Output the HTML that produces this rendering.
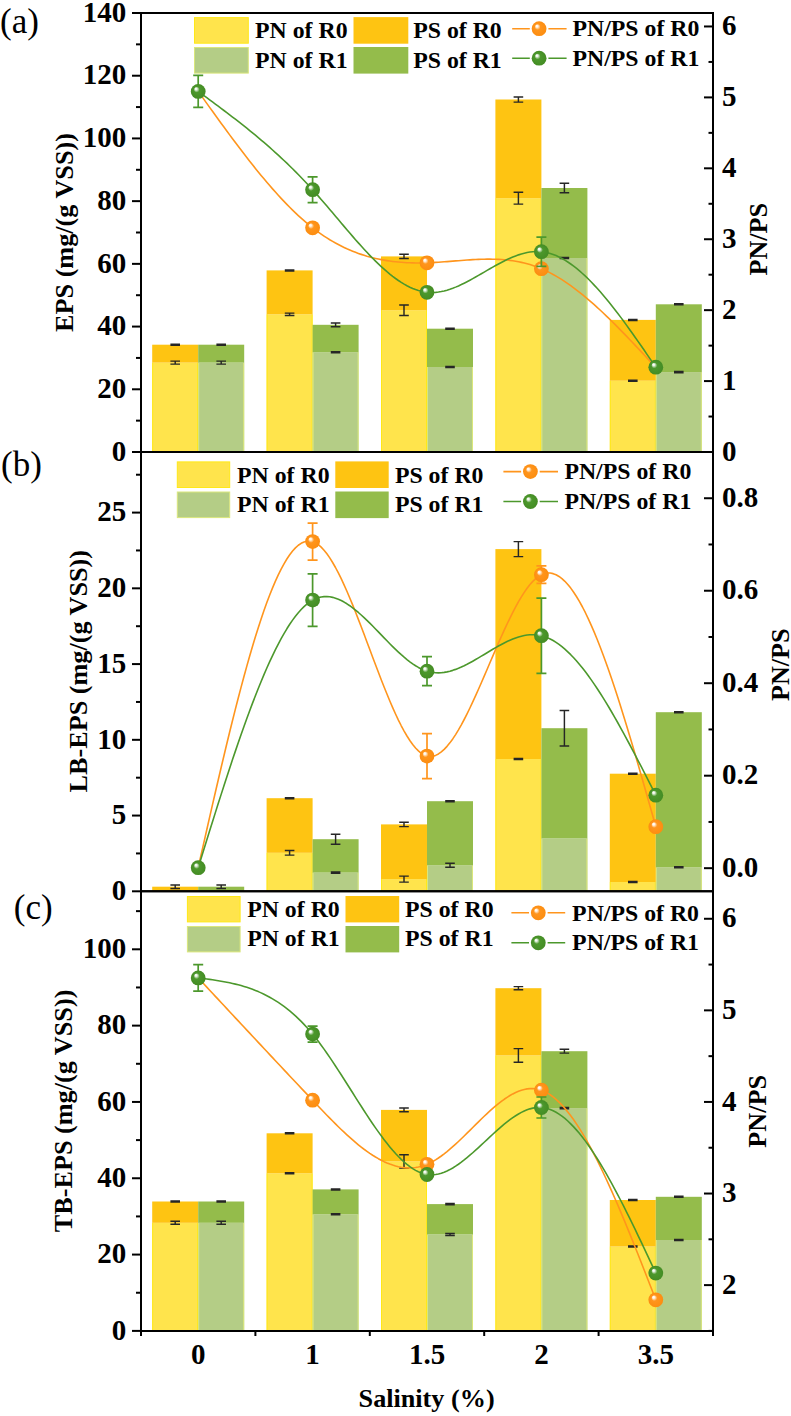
<!DOCTYPE html>
<html><head><meta charset="utf-8"><style>
html,body{margin:0;padding:0;background:#fff;}
svg{display:block;}
.tk{font-family:"Liberation Serif",serif;font-weight:bold;font-size:29px;}
.lg{font-family:"Liberation Serif",serif;font-weight:bold;font-size:23.8px;}
.tt{font-family:"Liberation Serif",serif;font-weight:bold;font-size:26.2px;}
.pl{font-family:"Liberation Serif",serif;font-size:35px;}
</style></head><body>
<svg width="791" height="1416" viewBox="0 0 791 1416">
<defs>
<radialGradient id="gor" cx="0.5" cy="0.5" r="0.5" fx="0.33" fy="0.3">
<stop offset="0" stop-color="#ffffff"/><stop offset="0.14" stop-color="#fff6ea"/><stop offset="0.4" stop-color="#FF951D"/><stop offset="1" stop-color="#fc8d10"/></radialGradient>
<radialGradient id="ggr" cx="0.5" cy="0.5" r="0.5" fx="0.33" fy="0.3">
<stop offset="0" stop-color="#ffffff"/><stop offset="0.14" stop-color="#eef5ea"/><stop offset="0.4" stop-color="#4C982C"/><stop offset="1" stop-color="#448c24"/></radialGradient>
</defs>
<rect width="791" height="1416" fill="#fff"/>
<rect x="152.2" y="362.6" width="46" height="89.4" fill="#FFE44C"/>
<path d="M152.7 362.6V452M197.7 362.6V452" stroke="#FFE817" stroke-width="1"/>
<rect x="198.2" y="362.6" width="46" height="89.4" fill="#B4CD86"/>
<path d="M198.7 362.6V452M243.7 362.6V452" stroke="#DAE77C" stroke-width="1"/>
<rect x="152.2" y="344.7" width="46" height="17.9" fill="#FEC412"/>
<rect x="198.2" y="344.7" width="46" height="17.9" fill="#94BC4B"/>
<rect x="266.6" y="314.3" width="46" height="137.7" fill="#FFE44C"/>
<path d="M267.1 314.3V452M312.1 314.3V452" stroke="#FFE817" stroke-width="1"/>
<rect x="312.6" y="352.2" width="46" height="99.8" fill="#B4CD86"/>
<path d="M313.1 352.2V452M358.1 352.2V452" stroke="#DAE77C" stroke-width="1"/>
<rect x="266.6" y="270.4" width="46" height="43.9" fill="#FEC412"/>
<rect x="312.6" y="324.8" width="46" height="27.4" fill="#94BC4B"/>
<rect x="381" y="310.2" width="46" height="141.8" fill="#FFE44C"/>
<path d="M381.5 310.2V452M426.5 310.2V452" stroke="#FFE817" stroke-width="1"/>
<rect x="427" y="367" width="46" height="85" fill="#B4CD86"/>
<path d="M427.5 367V452M472.5 367V452" stroke="#DAE77C" stroke-width="1"/>
<rect x="381" y="256.4" width="46" height="53.8" fill="#FEC412"/>
<rect x="427" y="328.7" width="46" height="38.3" fill="#94BC4B"/>
<rect x="495.4" y="198.2" width="46" height="253.8" fill="#FFE44C"/>
<path d="M495.9 198.2V452M540.9 198.2V452" stroke="#FFE817" stroke-width="1"/>
<rect x="541.4" y="258" width="46" height="194" fill="#B4CD86"/>
<path d="M541.9 258V452M586.9 258V452" stroke="#DAE77C" stroke-width="1"/>
<rect x="495.4" y="99.5" width="46" height="98.7" fill="#FEC412"/>
<rect x="541.4" y="188" width="46" height="70" fill="#94BC4B"/>
<rect x="609.8" y="380.7" width="46" height="71.3" fill="#FFE44C"/>
<path d="M610.3 380.7V452M655.3 380.7V452" stroke="#FFE817" stroke-width="1"/>
<rect x="655.8" y="372.1" width="46" height="79.9" fill="#B4CD86"/>
<path d="M656.3 372.1V452M701.3 372.1V452" stroke="#DAE77C" stroke-width="1"/>
<rect x="609.8" y="319.9" width="46" height="60.8" fill="#FEC412"/>
<rect x="655.8" y="304.3" width="46" height="67.8" fill="#94BC4B"/>
<path d="M175.2 344.15V345.25M170.4 344.15H180M170.4 345.25H180" stroke="#262626" stroke-width="1.45" fill="none"/>
<path d="M175.2 361.1V364.1M170.4 361.1H180M170.4 364.1H180" stroke="#262626" stroke-width="1.45" fill="none"/>
<path d="M221.2 344.15V345.25M216.4 344.15H226M216.4 345.25H226" stroke="#262626" stroke-width="1.45" fill="none"/>
<path d="M221.2 361.1V364.1M216.4 361.1H226M216.4 364.1H226" stroke="#262626" stroke-width="1.45" fill="none"/>
<path d="M289.6 269.85V270.95M284.8 269.85H294.4M284.8 270.95H294.4" stroke="#262626" stroke-width="1.45" fill="none"/>
<path d="M289.6 313.1V315.5M284.8 313.1H294.4M284.8 315.5H294.4" stroke="#262626" stroke-width="1.45" fill="none"/>
<path d="M335.6 322.9V326.7M330.8 322.9H340.4M330.8 326.7H340.4" stroke="#262626" stroke-width="1.45" fill="none"/>
<path d="M335.6 351.65V352.75M330.8 351.65H340.4M330.8 352.75H340.4" stroke="#262626" stroke-width="1.45" fill="none"/>
<path d="M404 254.3V258.5M399.2 254.3H408.8M399.2 258.5H408.8" stroke="#262626" stroke-width="1.45" fill="none"/>
<path d="M404 305V315.4M399.2 305H408.8M399.2 315.4H408.8" stroke="#262626" stroke-width="1.45" fill="none"/>
<path d="M450 328.15V329.25M445.2 328.15H454.8M445.2 329.25H454.8" stroke="#262626" stroke-width="1.45" fill="none"/>
<path d="M450 366.45V367.55M445.2 366.45H454.8M445.2 367.55H454.8" stroke="#262626" stroke-width="1.45" fill="none"/>
<path d="M518.4 96.9V102.1M513.6 96.9H523.2M513.6 102.1H523.2" stroke="#262626" stroke-width="1.45" fill="none"/>
<path d="M518.4 192.3V204.1M513.6 192.3H523.2M513.6 204.1H523.2" stroke="#262626" stroke-width="1.45" fill="none"/>
<path d="M564.4 183.3V192.7M559.6 183.3H569.2M559.6 192.7H569.2" stroke="#262626" stroke-width="1.45" fill="none"/>
<path d="M564.4 257.45V258.55M559.6 257.45H569.2M559.6 258.55H569.2" stroke="#262626" stroke-width="1.45" fill="none"/>
<path d="M632.8 319.35V320.45M628 319.35H637.6M628 320.45H637.6" stroke="#262626" stroke-width="1.45" fill="none"/>
<path d="M632.8 380.15V381.25M628 380.15H637.6M628 381.25H637.6" stroke="#262626" stroke-width="1.45" fill="none"/>
<path d="M678.8 303.75V304.85M674 303.75H683.6M674 304.85H683.6" stroke="#262626" stroke-width="1.45" fill="none"/>
<path d="M678.8 371.55V372.65M674 371.55H683.6M674 372.65H683.6" stroke="#262626" stroke-width="1.45" fill="none"/>
<path d="M198.20 91.40 L201.06 95.40 L203.92 99.39 L206.78 103.38 L209.64 107.36 L212.50 111.33 L215.36 115.29 L218.22 119.24 L221.08 123.18 L223.94 127.09 L226.80 130.99 L229.66 134.86 L232.52 138.71 L235.38 142.54 L238.24 146.33 L241.10 150.10 L243.96 153.83 L246.82 157.53 L249.68 161.19 L252.54 164.81 L255.40 168.38 L258.26 171.92 L261.12 175.41 L263.98 178.85 L266.84 182.23 L269.70 185.57 L272.56 188.85 L275.42 192.08 L278.28 195.24 L281.14 198.35 L284.00 201.39 L286.86 204.36 L289.72 207.27 L292.58 210.10 L295.44 212.86 L298.30 215.55 L301.16 218.17 L304.02 220.70 L306.88 223.15 L309.74 225.52 L312.60 227.80 L315.46 230.00 L318.32 232.10 L321.18 234.13 L324.04 236.07 L326.90 237.93 L329.76 239.71 L332.62 241.40 L335.48 243.03 L338.34 244.57 L341.20 246.04 L344.06 247.44 L346.92 248.77 L349.78 250.02 L352.64 251.21 L355.50 252.33 L358.36 253.38 L361.22 254.37 L364.08 255.30 L366.94 256.17 L369.80 256.97 L372.66 257.72 L375.52 258.41 L378.38 259.05 L381.24 259.63 L384.10 260.16 L386.96 260.64 L389.82 261.07 L392.68 261.45 L395.54 261.78 L398.40 262.07 L401.26 262.31 L404.12 262.52 L406.98 262.68 L409.84 262.80 L412.70 262.89 L415.56 262.94 L418.42 262.95 L421.28 262.93 L424.14 262.88 L427.00 262.80 L429.86 262.69 L432.72 262.55 L435.58 262.40 L438.44 262.22 L441.30 262.02 L444.16 261.82 L447.02 261.60 L449.88 261.37 L452.74 261.14 L455.60 260.91 L458.46 260.68 L461.32 260.46 L464.18 260.24 L467.04 260.03 L469.90 259.84 L472.76 259.67 L475.62 259.52 L478.48 259.39 L481.34 259.28 L484.20 259.21 L487.06 259.17 L489.92 259.16 L492.78 259.20 L495.64 259.27 L498.50 259.39 L501.36 259.56 L504.22 259.78 L507.08 260.05 L509.94 260.39 L512.80 260.78 L515.66 261.23 L518.52 261.76 L521.38 262.35 L524.24 263.01 L527.10 263.75 L529.96 264.57 L532.82 265.47 L535.68 266.46 L538.54 267.53 L541.40 268.70 L544.33 269.99 L547.27 271.38 L550.20 272.87 L553.13 274.44 L556.07 276.10 L559.00 277.86 L561.93 279.69 L564.87 281.61 L567.80 283.60 L570.73 285.67 L573.67 287.82 L576.60 290.03 L579.53 292.32 L582.47 294.67 L585.40 297.08 L588.33 299.56 L591.27 302.09 L594.20 304.68 L597.13 307.33 L600.07 310.02 L603.00 312.76 L605.93 315.55 L608.87 318.38 L611.80 321.26 L614.73 324.17 L617.67 327.11 L620.60 330.09 L623.53 333.10 L626.47 336.14 L629.40 339.20 L632.33 342.29 L635.27 345.40 L638.20 348.52 L641.13 351.66 L644.07 354.81 L647.00 357.98 L649.93 361.15 L652.87 364.32 L655.80 367.50" stroke="#FF951D" stroke-width="1.6" fill="none" stroke-linejoin="round"/>
<path d="M198.20 91.40 L201.06 93.50 L203.92 95.61 L206.78 97.72 L209.64 99.83 L212.50 101.94 L215.36 104.07 L218.22 106.20 L221.08 108.34 L223.94 110.49 L226.80 112.65 L229.66 114.83 L232.52 117.02 L235.38 119.23 L238.24 121.45 L241.10 123.70 L243.96 125.96 L246.82 128.24 L249.68 130.55 L252.54 132.88 L255.40 135.24 L258.26 137.62 L261.12 140.03 L263.98 142.47 L266.84 144.94 L269.70 147.44 L272.56 149.98 L275.42 152.55 L278.28 155.15 L281.14 157.79 L284.00 160.48 L286.86 163.20 L289.72 165.96 L292.58 168.76 L295.44 171.61 L298.30 174.51 L301.16 177.45 L304.02 180.44 L306.88 183.47 L309.74 186.56 L312.60 189.70 L315.46 192.89 L318.32 196.13 L321.18 199.41 L324.04 202.72 L326.90 206.06 L329.76 209.43 L332.62 212.81 L335.48 216.19 L338.34 219.59 L341.20 222.98 L344.06 226.36 L346.92 229.72 L349.78 233.06 L352.64 236.38 L355.50 239.66 L358.36 242.90 L361.22 246.09 L364.08 249.23 L366.94 252.31 L369.80 255.33 L372.66 258.27 L375.52 261.14 L378.38 263.92 L381.24 266.61 L384.10 269.21 L386.96 271.70 L389.82 274.08 L392.68 276.35 L395.54 278.50 L398.40 280.51 L401.26 282.40 L404.12 284.14 L406.98 285.74 L409.84 287.19 L412.70 288.47 L415.56 289.59 L418.42 290.54 L421.28 291.31 L424.14 291.90 L427.00 292.30 L429.86 292.50 L432.72 292.52 L435.58 292.36 L438.44 292.04 L441.30 291.55 L444.16 290.92 L447.02 290.15 L449.88 289.26 L452.74 288.24 L455.60 287.12 L458.46 285.90 L461.32 284.59 L464.18 283.20 L467.04 281.74 L469.90 280.23 L472.76 278.66 L475.62 277.05 L478.48 275.42 L481.34 273.76 L484.20 272.10 L487.06 270.43 L489.92 268.77 L492.78 267.13 L495.64 265.52 L498.50 263.95 L501.36 262.43 L504.22 260.97 L507.08 259.57 L509.94 258.25 L512.80 257.02 L515.66 255.89 L518.52 254.87 L521.38 253.96 L524.24 253.18 L527.10 252.53 L529.96 252.03 L532.82 251.69 L535.68 251.51 L538.54 251.51 L541.40 251.70 L544.33 252.09 L547.27 252.68 L550.20 253.47 L553.13 254.44 L556.07 255.60 L559.00 256.94 L561.93 258.46 L564.87 260.14 L567.80 261.99 L570.73 263.99 L573.67 266.15 L576.60 268.45 L579.53 270.90 L582.47 273.48 L585.40 276.20 L588.33 279.04 L591.27 282.00 L594.20 285.08 L597.13 288.27 L600.07 291.57 L603.00 294.96 L605.93 298.45 L608.87 302.03 L611.80 305.70 L614.73 309.44 L617.67 313.26 L620.60 317.14 L623.53 321.09 L626.47 325.10 L629.40 329.16 L632.33 333.27 L635.27 337.42 L638.20 341.60 L641.13 345.82 L644.07 350.06 L647.00 354.33 L649.93 358.61 L652.87 362.90 L655.80 367.20" stroke="#4C982C" stroke-width="1.6" fill="none" stroke-linejoin="round"/>
<circle cx="312.6" cy="227.8" r="7.4" fill="url(#gor)"/>
<circle cx="427" cy="262.8" r="7.4" fill="url(#gor)"/>
<circle cx="541.4" cy="268.7" r="7.4" fill="url(#gor)"/>
<path d="M198.2 75.4V107.4M193.2 75.4H203.2M193.2 107.4H203.2" stroke="#4C982C" stroke-width="1.7" fill="none"/>
<circle cx="198.2" cy="91.4" r="7.4" fill="url(#ggr)"/>
<path d="M312.6 176.8V202.6M307.6 176.8H317.6M307.6 202.6H317.6" stroke="#4C982C" stroke-width="1.7" fill="none"/>
<circle cx="312.6" cy="189.7" r="7.4" fill="url(#ggr)"/>
<circle cx="427" cy="292.3" r="7.4" fill="url(#ggr)"/>
<path d="M541.4 237.1V266.3M536.4 237.1H546.4M536.4 266.3H546.4" stroke="#4C982C" stroke-width="1.7" fill="none"/>
<circle cx="541.4" cy="251.7" r="7.4" fill="url(#ggr)"/>
<circle cx="655.8" cy="367.2" r="7.4" fill="url(#ggr)"/>
<rect x="194.5" y="17.6" width="53.8" height="25.6" fill="#FFE44C" stroke="#FFE817" stroke-width="1"/>
<rect x="194.5" y="47.5" width="53.8" height="25.6" fill="#B4CD86" stroke="#DAE77C" stroke-width="1"/>
<rect x="353.5" y="17.1" width="54.8" height="26.6" fill="#FEC412"/>
<rect x="353.5" y="47" width="54.8" height="26.6" fill="#94BC4B"/>
<text x="255" y="38.1" class="lg">PN of R0</text>
<text x="255" y="68" class="lg">PN of R1</text>
<text x="413.2" y="38.1" class="lg">PS of R0</text>
<text x="413.2" y="68" class="lg">PS of R1</text>
<text x="572.5" y="36.3" class="lg">PN/PS of R0</text>
<text x="572.5" y="65.8" class="lg">PN/PS of R1</text>
<path d="M512.2 28.7H529.8M548.4 28.7H566.6" stroke="#FF951D" stroke-width="1.6"/>
<circle cx="539.1" cy="28.7" r="7.4" fill="url(#gor)"/>
<path d="M512.2 58.2H529.8M548.4 58.2H566.6" stroke="#4C982C" stroke-width="1.6"/>
<circle cx="539.1" cy="58.2" r="7.4" fill="url(#ggr)"/>
<path d="M141 13H713V452H141Z" stroke="#000" stroke-width="2" fill="none"/>
<path d="M132 452H141" stroke="#000" stroke-width="2"/>
<text x="126.2" y="460.7" class="tk" text-anchor="end">0</text>
<path d="M136 420.64H141" stroke="#000" stroke-width="2"/>
<path d="M132 389.29H141" stroke="#000" stroke-width="2"/>
<text x="126.2" y="397.99" class="tk" text-anchor="end">20</text>
<path d="M136 357.93H141" stroke="#000" stroke-width="2"/>
<path d="M132 326.57H141" stroke="#000" stroke-width="2"/>
<text x="126.2" y="335.27" class="tk" text-anchor="end">40</text>
<path d="M136 295.21H141" stroke="#000" stroke-width="2"/>
<path d="M132 263.86H141" stroke="#000" stroke-width="2"/>
<text x="126.2" y="272.56" class="tk" text-anchor="end">60</text>
<path d="M136 232.5H141" stroke="#000" stroke-width="2"/>
<path d="M132 201.14H141" stroke="#000" stroke-width="2"/>
<text x="126.2" y="209.84" class="tk" text-anchor="end">80</text>
<path d="M136 169.79H141" stroke="#000" stroke-width="2"/>
<path d="M132 138.43H141" stroke="#000" stroke-width="2"/>
<text x="126.2" y="147.13" class="tk" text-anchor="end">100</text>
<path d="M136 107.07H141" stroke="#000" stroke-width="2"/>
<path d="M132 75.71H141" stroke="#000" stroke-width="2"/>
<text x="126.2" y="84.41" class="tk" text-anchor="end">120</text>
<path d="M136 44.36H141" stroke="#000" stroke-width="2"/>
<path d="M132 13H141" stroke="#000" stroke-width="2"/>
<text x="126.2" y="21.7" class="tk" text-anchor="end">140</text>
<path d="M704 452H713" stroke="#000" stroke-width="2"/>
<text x="722" y="460.7" class="tk">0</text>
<path d="M708.5 416.54H713" stroke="#000" stroke-width="2"/>
<path d="M704 381.08H713" stroke="#000" stroke-width="2"/>
<text x="722" y="389.78" class="tk">1</text>
<path d="M708.5 345.62H713" stroke="#000" stroke-width="2"/>
<path d="M704 310.16H713" stroke="#000" stroke-width="2"/>
<text x="722" y="318.86" class="tk">2</text>
<path d="M708.5 274.7H713" stroke="#000" stroke-width="2"/>
<path d="M704 239.24H713" stroke="#000" stroke-width="2"/>
<text x="722" y="247.94" class="tk">3</text>
<path d="M708.5 203.78H713" stroke="#000" stroke-width="2"/>
<path d="M704 168.32H713" stroke="#000" stroke-width="2"/>
<text x="722" y="177.02" class="tk">4</text>
<path d="M708.5 132.86H713" stroke="#000" stroke-width="2"/>
<path d="M704 97.4H713" stroke="#000" stroke-width="2"/>
<text x="722" y="106.1" class="tk">5</text>
<path d="M708.5 61.94H713" stroke="#000" stroke-width="2"/>
<path d="M704 26.47H713" stroke="#000" stroke-width="2"/>
<text x="722" y="35.17" class="tk">6</text>
<text class="tt" text-anchor="middle" transform="translate(72.9 232.5) rotate(-90)">EPS (mg/(g VSS))</text>
<text class="tt" text-anchor="middle" transform="translate(767.3 239.2) rotate(-90)">PN/PS</text>
<text x="0.1" y="32.9" class="pl">(a)</text>
<rect x="152.2" y="886.7" width="46" height="4.6" fill="#FEC412"/>
<rect x="198.2" y="886.7" width="46" height="4.6" fill="#94BC4B"/>
<rect x="266.6" y="852.8" width="46" height="38.5" fill="#FFE44C"/>
<path d="M267.1 852.8V891.3M312.1 852.8V891.3" stroke="#FFE817" stroke-width="1"/>
<rect x="312.6" y="872.6" width="46" height="18.7" fill="#B4CD86"/>
<path d="M313.1 872.6V891.3M358.1 872.6V891.3" stroke="#DAE77C" stroke-width="1"/>
<rect x="266.6" y="798.2" width="46" height="54.6" fill="#FEC412"/>
<rect x="312.6" y="839.2" width="46" height="33.4" fill="#94BC4B"/>
<rect x="381" y="879.1" width="46" height="12.2" fill="#FFE44C"/>
<path d="M381.5 879.1V891.3M426.5 879.1V891.3" stroke="#FFE817" stroke-width="1"/>
<rect x="427" y="865.2" width="46" height="26.1" fill="#B4CD86"/>
<path d="M427.5 865.2V891.3M472.5 865.2V891.3" stroke="#DAE77C" stroke-width="1"/>
<rect x="381" y="824.4" width="46" height="54.7" fill="#FEC412"/>
<rect x="427" y="801.2" width="46" height="64" fill="#94BC4B"/>
<rect x="495.4" y="759" width="46" height="132.3" fill="#FFE44C"/>
<path d="M495.9 759V891.3M540.9 759V891.3" stroke="#FFE817" stroke-width="1"/>
<rect x="541.4" y="838.4" width="46" height="52.9" fill="#B4CD86"/>
<path d="M541.9 838.4V891.3M586.9 838.4V891.3" stroke="#DAE77C" stroke-width="1"/>
<rect x="495.4" y="549.1" width="46" height="209.9" fill="#FEC412"/>
<rect x="541.4" y="728.2" width="46" height="110.2" fill="#94BC4B"/>
<rect x="609.8" y="882" width="46" height="9.3" fill="#FFE44C"/>
<path d="M610.3 882V891.3M655.3 882V891.3" stroke="#FFE817" stroke-width="1"/>
<rect x="655.8" y="867.3" width="46" height="24" fill="#B4CD86"/>
<path d="M656.3 867.3V891.3M701.3 867.3V891.3" stroke="#DAE77C" stroke-width="1"/>
<rect x="609.8" y="773.7" width="46" height="108.3" fill="#FEC412"/>
<rect x="655.8" y="712.2" width="46" height="155.1" fill="#94BC4B"/>
<path d="M175.2 885V888.4M170.4 885H180M170.4 888.4H180" stroke="#262626" stroke-width="1.45" fill="none"/>
<path d="M221.2 885V888.4M216.4 885H226M216.4 888.4H226" stroke="#262626" stroke-width="1.45" fill="none"/>
<path d="M289.6 797.65V798.75M284.8 797.65H294.4M284.8 798.75H294.4" stroke="#262626" stroke-width="1.45" fill="none"/>
<path d="M289.6 850.5V855.1M284.8 850.5H294.4M284.8 855.1H294.4" stroke="#262626" stroke-width="1.45" fill="none"/>
<path d="M335.6 834.2V844.2M330.8 834.2H340.4M330.8 844.2H340.4" stroke="#262626" stroke-width="1.45" fill="none"/>
<path d="M335.6 872.05V873.15M330.8 872.05H340.4M330.8 873.15H340.4" stroke="#262626" stroke-width="1.45" fill="none"/>
<path d="M404 822.2V826.6M399.2 822.2H408.8M399.2 826.6H408.8" stroke="#262626" stroke-width="1.45" fill="none"/>
<path d="M404 876.1V882.1M399.2 876.1H408.8M399.2 882.1H408.8" stroke="#262626" stroke-width="1.45" fill="none"/>
<path d="M450 800.65V801.75M445.2 800.65H454.8M445.2 801.75H454.8" stroke="#262626" stroke-width="1.45" fill="none"/>
<path d="M450 863.2V867.2M445.2 863.2H454.8M445.2 867.2H454.8" stroke="#262626" stroke-width="1.45" fill="none"/>
<path d="M518.4 541.6V556.6M513.6 541.6H523.2M513.6 556.6H523.2" stroke="#262626" stroke-width="1.45" fill="none"/>
<path d="M518.4 758.45V759.55M513.6 758.45H523.2M513.6 759.55H523.2" stroke="#262626" stroke-width="1.45" fill="none"/>
<path d="M564.4 710.5V745.9M559.6 710.5H569.2M559.6 745.9H569.2" stroke="#262626" stroke-width="1.45" fill="none"/>
<path d="M632.8 773.15V774.25M628 773.15H637.6M628 774.25H637.6" stroke="#262626" stroke-width="1.45" fill="none"/>
<path d="M632.8 881.45V882.55M628 881.45H637.6M628 882.55H637.6" stroke="#262626" stroke-width="1.45" fill="none"/>
<path d="M678.8 711.65V712.75M674 711.65H683.6M674 712.75H683.6" stroke="#262626" stroke-width="1.45" fill="none"/>
<path d="M678.8 866.75V867.85M674 866.75H683.6M674 867.85H683.6" stroke="#262626" stroke-width="1.45" fill="none"/>
<path d="M198.20 867.70 L201.06 855.03 L203.92 842.38 L206.78 829.76 L209.64 817.19 L212.50 804.69 L215.36 792.27 L218.22 779.96 L221.08 767.76 L223.94 755.70 L226.80 743.79 L229.66 732.06 L232.52 720.51 L235.38 709.16 L238.24 698.03 L241.10 687.14 L243.96 676.50 L246.82 666.14 L249.68 656.06 L252.54 646.29 L255.40 636.84 L258.26 627.73 L261.12 618.98 L263.98 610.60 L266.84 602.60 L269.70 595.02 L272.56 587.86 L275.42 581.14 L278.28 574.88 L281.14 569.09 L284.00 563.79 L286.86 559.01 L289.72 554.74 L292.58 551.02 L295.44 547.86 L298.30 545.28 L301.16 543.29 L304.02 541.91 L306.88 541.16 L309.74 541.05 L312.60 541.60 L315.46 542.82 L318.32 544.69 L321.18 547.16 L324.04 550.22 L326.90 553.81 L329.76 557.91 L332.62 562.48 L335.48 567.50 L338.34 572.92 L341.20 578.71 L344.06 584.84 L346.92 591.27 L349.78 597.97 L352.64 604.91 L355.50 612.04 L358.36 619.35 L361.22 626.78 L364.08 634.32 L366.94 641.92 L369.80 649.55 L372.66 657.18 L375.52 664.77 L378.38 672.28 L381.24 679.70 L384.10 686.97 L386.96 694.07 L389.82 700.96 L392.68 707.60 L395.54 713.98 L398.40 720.04 L401.26 725.76 L404.12 731.10 L406.98 736.02 L409.84 740.50 L412.70 744.50 L415.56 747.99 L418.42 750.92 L421.28 753.28 L424.14 755.01 L427.00 756.10 L429.86 756.51 L432.72 756.27 L435.58 755.41 L438.44 753.95 L441.30 751.94 L444.16 749.40 L447.02 746.36 L449.88 742.86 L452.74 738.93 L455.60 734.59 L458.46 729.89 L461.32 724.85 L464.18 719.50 L467.04 713.88 L469.90 708.02 L472.76 701.94 L475.62 695.68 L478.48 689.28 L481.34 682.76 L484.20 676.15 L487.06 669.49 L489.92 662.80 L492.78 656.13 L495.64 649.50 L498.50 642.94 L501.36 636.48 L504.22 630.16 L507.08 624.01 L509.94 618.05 L512.80 612.33 L515.66 606.87 L518.52 601.70 L521.38 596.85 L524.24 592.37 L527.10 588.27 L529.96 584.59 L532.82 581.36 L535.68 578.62 L538.54 576.38 L541.40 574.70 L544.33 573.56 L547.27 573.02 L550.20 573.05 L553.13 573.65 L556.07 574.79 L559.00 576.45 L561.93 578.64 L564.87 581.32 L567.80 584.48 L570.73 588.11 L573.67 592.20 L576.60 596.72 L579.53 601.66 L582.47 607.00 L585.40 612.73 L588.33 618.84 L591.27 625.31 L594.20 632.12 L597.13 639.26 L600.07 646.70 L603.00 654.45 L605.93 662.47 L608.87 670.76 L611.80 679.30 L614.73 688.07 L617.67 697.06 L620.60 706.26 L623.53 715.64 L626.47 725.19 L629.40 734.90 L632.33 744.74 L635.27 754.71 L638.20 764.80 L641.13 774.97 L644.07 785.22 L647.00 795.54 L649.93 805.90 L652.87 816.29 L655.80 826.70" stroke="#FF951D" stroke-width="1.6" fill="none" stroke-linejoin="round"/>
<path d="M198.20 867.70 L201.06 858.47 L203.92 849.24 L206.78 840.04 L209.64 830.86 L212.50 821.72 L215.36 812.63 L218.22 803.60 L221.08 794.63 L223.94 785.74 L226.80 776.94 L229.66 768.23 L232.52 759.62 L235.38 751.13 L238.24 742.77 L241.10 734.54 L243.96 726.45 L246.82 718.51 L249.68 710.74 L252.54 703.14 L255.40 695.72 L258.26 688.49 L261.12 681.46 L263.98 674.64 L266.84 668.04 L269.70 661.67 L272.56 655.54 L275.42 649.66 L278.28 644.03 L281.14 638.67 L284.00 633.59 L286.86 628.80 L289.72 624.30 L292.58 620.10 L295.44 616.22 L298.30 612.67 L301.16 609.45 L304.02 606.57 L306.88 604.05 L309.74 601.89 L312.60 600.10 L315.46 598.69 L318.32 597.64 L321.18 596.95 L324.04 596.59 L326.90 596.54 L329.76 596.80 L332.62 597.35 L335.48 598.16 L338.34 599.23 L341.20 600.54 L344.06 602.07 L346.92 603.80 L349.78 605.73 L352.64 607.83 L355.50 610.08 L358.36 612.48 L361.22 615.01 L364.08 617.65 L366.94 620.38 L369.80 623.18 L372.66 626.06 L375.52 628.97 L378.38 631.92 L381.24 634.88 L384.10 637.84 L386.96 640.79 L389.82 643.70 L392.68 646.56 L395.54 649.35 L398.40 652.06 L401.26 654.68 L404.12 657.18 L406.98 659.55 L409.84 661.78 L412.70 663.85 L415.56 665.74 L418.42 667.43 L421.28 668.92 L424.14 670.18 L427.00 671.20 L429.86 671.97 L432.72 672.49 L435.58 672.78 L438.44 672.85 L441.30 672.72 L444.16 672.39 L447.02 671.88 L449.88 671.20 L452.74 670.36 L455.60 669.38 L458.46 668.27 L461.32 667.04 L464.18 665.71 L467.04 664.28 L469.90 662.77 L472.76 661.19 L475.62 659.56 L478.48 657.89 L481.34 656.18 L484.20 654.46 L487.06 652.73 L489.92 651.01 L492.78 649.31 L495.64 647.64 L498.50 646.02 L501.36 644.45 L504.22 642.96 L507.08 641.55 L509.94 640.23 L512.80 639.03 L515.66 637.94 L518.52 636.99 L521.38 636.18 L524.24 635.54 L527.10 635.06 L529.96 634.77 L532.82 634.68 L535.68 634.79 L538.54 635.13 L541.40 635.70 L544.33 636.54 L547.27 637.63 L550.20 638.97 L553.13 640.55 L556.07 642.36 L559.00 644.40 L561.93 646.66 L564.87 649.13 L567.80 651.81 L570.73 654.69 L573.67 657.76 L576.60 661.02 L579.53 664.46 L582.47 668.07 L585.40 671.85 L588.33 675.79 L591.27 679.88 L594.20 684.12 L597.13 688.50 L600.07 693.01 L603.00 697.65 L605.93 702.41 L608.87 707.28 L611.80 712.26 L614.73 717.34 L617.67 722.51 L620.60 727.77 L623.53 733.11 L626.47 738.52 L629.40 744.00 L632.33 749.53 L635.27 755.13 L638.20 760.76 L641.13 766.44 L644.07 772.15 L647.00 777.89 L649.93 783.65 L652.87 789.42 L655.80 795.20" stroke="#4C982C" stroke-width="1.6" fill="none" stroke-linejoin="round"/>
<path d="M312.6 523.1V560.1M307.6 523.1H317.6M307.6 560.1H317.6" stroke="#FF951D" stroke-width="1.7" fill="none"/>
<circle cx="312.6" cy="541.6" r="7.4" fill="url(#gor)"/>
<path d="M427 733.6V778.6M422 733.6H432M422 778.6H432" stroke="#FF951D" stroke-width="1.7" fill="none"/>
<circle cx="427" cy="756.1" r="7.4" fill="url(#gor)"/>
<path d="M541.4 565.95V583.45M536.4 565.95H546.4M536.4 583.45H546.4" stroke="#FF951D" stroke-width="1.7" fill="none"/>
<circle cx="541.4" cy="574.7" r="7.4" fill="url(#gor)"/>
<circle cx="655.8" cy="826.7" r="7.4" fill="url(#gor)"/>
<circle cx="198.2" cy="867.7" r="7.4" fill="url(#ggr)"/>
<path d="M312.6 573.9V626.3M307.6 573.9H317.6M307.6 626.3H317.6" stroke="#4C982C" stroke-width="1.7" fill="none"/>
<circle cx="312.6" cy="600.1" r="7.4" fill="url(#ggr)"/>
<path d="M427 656.7V685.7M422 656.7H432M422 685.7H432" stroke="#4C982C" stroke-width="1.7" fill="none"/>
<circle cx="427" cy="671.2" r="7.4" fill="url(#ggr)"/>
<path d="M541.4 598.1V673.3M536.4 598.1H546.4M536.4 673.3H546.4" stroke="#4C982C" stroke-width="1.7" fill="none"/>
<circle cx="541.4" cy="635.7" r="7.4" fill="url(#ggr)"/>
<circle cx="655.8" cy="795.2" r="7.4" fill="url(#ggr)"/>
<rect x="177.3" y="461.9" width="52.4" height="25.6" fill="#FFE44C" stroke="#FFE817" stroke-width="1"/>
<rect x="177.3" y="492" width="52.4" height="25.6" fill="#B4CD86" stroke="#DAE77C" stroke-width="1"/>
<rect x="335.3" y="461.4" width="53.4" height="26.6" fill="#FEC412"/>
<rect x="335.3" y="491.5" width="53.4" height="26.6" fill="#94BC4B"/>
<text x="237" y="482.5" class="lg">PN of R0</text>
<text x="237" y="512" class="lg">PN of R1</text>
<text x="394.9" y="482.5" class="lg">PS of R0</text>
<text x="394.9" y="512" class="lg">PS of R1</text>
<text x="564.4" y="479.3" class="lg">PN/PS of R0</text>
<text x="564.4" y="508.6" class="lg">PN/PS of R1</text>
<path d="M503.4 471.6H521.1M539.7 471.6H558" stroke="#FF951D" stroke-width="1.6"/>
<circle cx="530.4" cy="471.6" r="7.4" fill="url(#gor)"/>
<path d="M503.4 501.5H521.1M539.7 501.5H558" stroke="#4C982C" stroke-width="1.6"/>
<circle cx="530.4" cy="501.5" r="7.4" fill="url(#ggr)"/>
<path d="M141 452H713V891.3H141Z" stroke="#000" stroke-width="2" fill="none"/>
<path d="M132 891.3H141" stroke="#000" stroke-width="2"/>
<text x="126.2" y="900" class="tk" text-anchor="end">0</text>
<path d="M136 853.43H141" stroke="#000" stroke-width="2"/>
<path d="M132 815.56H141" stroke="#000" stroke-width="2"/>
<text x="126.2" y="824.26" class="tk" text-anchor="end">5</text>
<path d="M136 777.69H141" stroke="#000" stroke-width="2"/>
<path d="M132 739.82H141" stroke="#000" stroke-width="2"/>
<text x="126.2" y="748.52" class="tk" text-anchor="end">10</text>
<path d="M136 701.95H141" stroke="#000" stroke-width="2"/>
<path d="M132 664.08H141" stroke="#000" stroke-width="2"/>
<text x="126.2" y="672.78" class="tk" text-anchor="end">15</text>
<path d="M136 626.21H141" stroke="#000" stroke-width="2"/>
<path d="M132 588.33H141" stroke="#000" stroke-width="2"/>
<text x="126.2" y="597.03" class="tk" text-anchor="end">20</text>
<path d="M136 550.46H141" stroke="#000" stroke-width="2"/>
<path d="M132 512.59H141" stroke="#000" stroke-width="2"/>
<text x="126.2" y="521.29" class="tk" text-anchor="end">25</text>
<path d="M136 474.72H141" stroke="#000" stroke-width="2"/>
<path d="M704 868.18H713" stroke="#000" stroke-width="2"/>
<text x="722" y="876.88" class="tk">0.0</text>
<path d="M708.5 821.94H713" stroke="#000" stroke-width="2"/>
<path d="M704 775.69H713" stroke="#000" stroke-width="2"/>
<text x="722" y="784.39" class="tk">0.2</text>
<path d="M708.5 729.45H713" stroke="#000" stroke-width="2"/>
<path d="M704 683.21H713" stroke="#000" stroke-width="2"/>
<text x="722" y="691.91" class="tk">0.4</text>
<path d="M708.5 636.97H713" stroke="#000" stroke-width="2"/>
<path d="M704 590.73H713" stroke="#000" stroke-width="2"/>
<text x="722" y="599.43" class="tk">0.6</text>
<path d="M708.5 544.48H713" stroke="#000" stroke-width="2"/>
<path d="M704 498.24H713" stroke="#000" stroke-width="2"/>
<text x="722" y="506.94" class="tk">0.8</text>
<path d="M708.5 452H713" stroke="#000" stroke-width="2"/>
<text class="tt" text-anchor="middle" transform="translate(86.9 671.2) rotate(-90)">LB-EPS (mg/(g VSS))</text>
<text class="tt" text-anchor="middle" transform="translate(788.5 664.7) rotate(-90)">PN/PS</text>
<text x="1.1" y="476.4" class="pl">(b)</text>
<rect x="152.2" y="1222.8" width="46" height="108.1" fill="#FFE44C"/>
<path d="M152.7 1222.8V1330.9M197.7 1222.8V1330.9" stroke="#FFE817" stroke-width="1"/>
<rect x="198.2" y="1222.8" width="46" height="108.1" fill="#B4CD86"/>
<path d="M198.7 1222.8V1330.9M243.7 1222.8V1330.9" stroke="#DAE77C" stroke-width="1"/>
<rect x="152.2" y="1201.5" width="46" height="21.3" fill="#FEC412"/>
<rect x="198.2" y="1201.5" width="46" height="21.3" fill="#94BC4B"/>
<rect x="266.6" y="1173.3" width="46" height="157.6" fill="#FFE44C"/>
<path d="M267.1 1173.3V1330.9M312.1 1173.3V1330.9" stroke="#FFE817" stroke-width="1"/>
<rect x="312.6" y="1214.3" width="46" height="116.6" fill="#B4CD86"/>
<path d="M313.1 1214.3V1330.9M358.1 1214.3V1330.9" stroke="#DAE77C" stroke-width="1"/>
<rect x="266.6" y="1133.3" width="46" height="40" fill="#FEC412"/>
<rect x="312.6" y="1189.4" width="46" height="24.9" fill="#94BC4B"/>
<rect x="381" y="1161.4" width="46" height="169.5" fill="#FFE44C"/>
<path d="M381.5 1161.4V1330.9M426.5 1161.4V1330.9" stroke="#FFE817" stroke-width="1"/>
<rect x="427" y="1234.4" width="46" height="96.5" fill="#B4CD86"/>
<path d="M427.5 1234.4V1330.9M472.5 1234.4V1330.9" stroke="#DAE77C" stroke-width="1"/>
<rect x="381" y="1109.9" width="46" height="51.5" fill="#FEC412"/>
<rect x="427" y="1204.1" width="46" height="30.3" fill="#94BC4B"/>
<rect x="495.4" y="1055.4" width="46" height="275.5" fill="#FFE44C"/>
<path d="M495.9 1055.4V1330.9M540.9 1055.4V1330.9" stroke="#FFE817" stroke-width="1"/>
<rect x="541.4" y="1108.1" width="46" height="222.8" fill="#B4CD86"/>
<path d="M541.9 1108.1V1330.9M586.9 1108.1V1330.9" stroke="#DAE77C" stroke-width="1"/>
<rect x="495.4" y="988.2" width="46" height="67.2" fill="#FEC412"/>
<rect x="541.4" y="1051.2" width="46" height="56.9" fill="#94BC4B"/>
<rect x="609.8" y="1246.5" width="46" height="84.4" fill="#FFE44C"/>
<path d="M610.3 1246.5V1330.9M655.3 1246.5V1330.9" stroke="#FFE817" stroke-width="1"/>
<rect x="655.8" y="1240" width="46" height="90.9" fill="#B4CD86"/>
<path d="M656.3 1240V1330.9M701.3 1240V1330.9" stroke="#DAE77C" stroke-width="1"/>
<rect x="609.8" y="1200" width="46" height="46.5" fill="#FEC412"/>
<rect x="655.8" y="1196.8" width="46" height="43.2" fill="#94BC4B"/>
<path d="M175.2 1200.95V1202.05M170.4 1200.95H180M170.4 1202.05H180" stroke="#262626" stroke-width="1.45" fill="none"/>
<path d="M175.2 1221.3V1224.3M170.4 1221.3H180M170.4 1224.3H180" stroke="#262626" stroke-width="1.45" fill="none"/>
<path d="M221.2 1200.95V1202.05M216.4 1200.95H226M216.4 1202.05H226" stroke="#262626" stroke-width="1.45" fill="none"/>
<path d="M221.2 1221.3V1224.3M216.4 1221.3H226M216.4 1224.3H226" stroke="#262626" stroke-width="1.45" fill="none"/>
<path d="M289.6 1132.75V1133.85M284.8 1132.75H294.4M284.8 1133.85H294.4" stroke="#262626" stroke-width="1.45" fill="none"/>
<path d="M289.6 1172.75V1173.85M284.8 1172.75H294.4M284.8 1173.85H294.4" stroke="#262626" stroke-width="1.45" fill="none"/>
<path d="M335.6 1188.85V1189.95M330.8 1188.85H340.4M330.8 1189.95H340.4" stroke="#262626" stroke-width="1.45" fill="none"/>
<path d="M335.6 1213.75V1214.85M330.8 1213.75H340.4M330.8 1214.85H340.4" stroke="#262626" stroke-width="1.45" fill="none"/>
<path d="M404 1108V1111.8M399.2 1108H408.8M399.2 1111.8H408.8" stroke="#262626" stroke-width="1.45" fill="none"/>
<path d="M404 1154.7V1168.1M399.2 1154.7H408.8M399.2 1168.1H408.8" stroke="#262626" stroke-width="1.45" fill="none"/>
<path d="M450 1203.55V1204.65M445.2 1203.55H454.8M445.2 1204.65H454.8" stroke="#262626" stroke-width="1.45" fill="none"/>
<path d="M450 1233.4V1235.4M445.2 1233.4H454.8M445.2 1235.4H454.8" stroke="#262626" stroke-width="1.45" fill="none"/>
<path d="M518.4 986.6V989.8M513.6 986.6H523.2M513.6 989.8H523.2" stroke="#262626" stroke-width="1.45" fill="none"/>
<path d="M518.4 1048.6V1062.2M513.6 1048.6H523.2M513.6 1062.2H523.2" stroke="#262626" stroke-width="1.45" fill="none"/>
<path d="M564.4 1049.3V1053.1M559.6 1049.3H569.2M559.6 1053.1H569.2" stroke="#262626" stroke-width="1.45" fill="none"/>
<path d="M564.4 1107.55V1108.65M559.6 1107.55H569.2M559.6 1108.65H569.2" stroke="#262626" stroke-width="1.45" fill="none"/>
<path d="M632.8 1199.45V1200.55M628 1199.45H637.6M628 1200.55H637.6" stroke="#262626" stroke-width="1.45" fill="none"/>
<path d="M632.8 1245.95V1247.05M628 1245.95H637.6M628 1247.05H637.6" stroke="#262626" stroke-width="1.45" fill="none"/>
<path d="M678.8 1196.25V1197.35M674 1196.25H683.6M674 1197.35H683.6" stroke="#262626" stroke-width="1.45" fill="none"/>
<path d="M678.8 1239.45V1240.55M674 1239.45H683.6M674 1240.55H683.6" stroke="#262626" stroke-width="1.45" fill="none"/>
<path d="M198.20 977.90 L201.06 980.97 L203.92 984.05 L206.78 987.12 L209.64 990.19 L212.50 993.27 L215.36 996.34 L218.22 999.41 L221.08 1002.49 L223.94 1005.56 L226.80 1008.63 L229.66 1011.70 L232.52 1014.77 L235.38 1017.84 L238.24 1020.91 L241.10 1023.97 L243.96 1027.04 L246.82 1030.10 L249.68 1033.17 L252.54 1036.23 L255.40 1039.29 L258.26 1042.36 L261.12 1045.42 L263.98 1048.47 L266.84 1051.53 L269.70 1054.59 L272.56 1057.64 L275.42 1060.69 L278.28 1063.74 L281.14 1066.79 L284.00 1069.84 L286.86 1072.88 L289.72 1075.93 L292.58 1078.97 L295.44 1082.01 L298.30 1085.05 L301.16 1088.08 L304.02 1091.11 L306.88 1094.15 L309.74 1097.17 L312.60 1100.20 L315.46 1103.22 L318.32 1106.24 L321.18 1109.24 L324.04 1112.23 L326.90 1115.19 L329.76 1118.12 L332.62 1121.02 L335.48 1123.88 L338.34 1126.70 L341.20 1129.47 L344.06 1132.18 L346.92 1134.84 L349.78 1137.43 L352.64 1139.95 L355.50 1142.40 L358.36 1144.77 L361.22 1147.05 L364.08 1149.25 L366.94 1151.34 L369.80 1153.34 L372.66 1155.23 L375.52 1157.02 L378.38 1158.68 L381.24 1160.23 L384.10 1161.65 L386.96 1162.93 L389.82 1164.08 L392.68 1165.09 L395.54 1165.96 L398.40 1166.67 L401.26 1167.22 L404.12 1167.62 L406.98 1167.84 L409.84 1167.89 L412.70 1167.77 L415.56 1167.46 L418.42 1166.97 L421.28 1166.28 L424.14 1165.39 L427.00 1164.30 L429.86 1163.00 L432.72 1161.51 L435.58 1159.84 L438.44 1158.00 L441.30 1156.00 L444.16 1153.86 L447.02 1151.59 L449.88 1149.20 L452.74 1146.72 L455.60 1144.14 L458.46 1141.48 L461.32 1138.76 L464.18 1135.99 L467.04 1133.18 L469.90 1130.35 L472.76 1127.51 L475.62 1124.67 L478.48 1121.84 L481.34 1119.04 L484.20 1116.29 L487.06 1113.59 L489.92 1110.96 L492.78 1108.40 L495.64 1105.95 L498.50 1103.60 L501.36 1101.37 L504.22 1099.27 L507.08 1097.32 L509.94 1095.54 L512.80 1093.92 L515.66 1092.49 L518.52 1091.26 L521.38 1090.25 L524.24 1089.46 L527.10 1088.91 L529.96 1088.61 L532.82 1088.58 L535.68 1088.82 L538.54 1089.36 L541.40 1090.20 L544.33 1091.39 L547.27 1092.91 L550.20 1094.74 L553.13 1096.88 L556.07 1099.33 L559.00 1102.06 L561.93 1105.08 L564.87 1108.37 L567.80 1111.93 L570.73 1115.74 L573.67 1119.81 L576.60 1124.11 L579.53 1128.65 L582.47 1133.41 L585.40 1138.38 L588.33 1143.56 L591.27 1148.94 L594.20 1154.51 L597.13 1160.25 L600.07 1166.17 L603.00 1172.25 L605.93 1178.49 L608.87 1184.87 L611.80 1191.39 L614.73 1198.03 L617.67 1204.80 L620.60 1211.68 L623.53 1218.66 L626.47 1225.74 L629.40 1232.90 L632.33 1240.14 L635.27 1247.45 L638.20 1254.81 L641.13 1262.23 L644.07 1269.69 L647.00 1277.19 L649.93 1284.71 L652.87 1292.25 L655.80 1299.80" stroke="#FF951D" stroke-width="1.6" fill="none" stroke-linejoin="round"/>
<path d="M198.20 977.90 L201.06 978.27 L203.92 978.64 L206.78 979.02 L209.64 979.41 L212.50 979.82 L215.36 980.24 L218.22 980.69 L221.08 981.17 L223.94 981.68 L226.80 982.22 L229.66 982.80 L232.52 983.42 L235.38 984.10 L238.24 984.82 L241.10 985.59 L243.96 986.43 L246.82 987.33 L249.68 988.29 L252.54 989.32 L255.40 990.43 L258.26 991.61 L261.12 992.88 L263.98 994.23 L266.84 995.68 L269.70 997.21 L272.56 998.84 L275.42 1000.58 L278.28 1002.42 L281.14 1004.36 L284.00 1006.43 L286.86 1008.60 L289.72 1010.90 L292.58 1013.32 L295.44 1015.88 L298.30 1018.56 L301.16 1021.38 L304.02 1024.34 L306.88 1027.44 L309.74 1030.70 L312.60 1034.10 L315.46 1037.66 L318.32 1041.36 L321.18 1045.19 L324.04 1049.15 L326.90 1053.21 L329.76 1057.37 L332.62 1061.62 L335.48 1065.94 L338.34 1070.33 L341.20 1074.77 L344.06 1079.25 L346.92 1083.75 L349.78 1088.27 L352.64 1092.80 L355.50 1097.33 L358.36 1101.83 L361.22 1106.30 L364.08 1110.74 L366.94 1115.12 L369.80 1119.44 L372.66 1123.68 L375.52 1127.83 L378.38 1131.89 L381.24 1135.83 L384.10 1139.66 L386.96 1143.35 L389.82 1146.89 L392.68 1150.28 L395.54 1153.50 L398.40 1156.54 L401.26 1159.39 L404.12 1162.03 L406.98 1164.46 L409.84 1166.67 L412.70 1168.63 L415.56 1170.35 L418.42 1171.81 L421.28 1172.99 L424.14 1173.89 L427.00 1174.50 L429.86 1174.80 L432.72 1174.81 L435.58 1174.55 L438.44 1174.02 L441.30 1173.24 L444.16 1172.24 L447.02 1171.01 L449.88 1169.59 L452.74 1167.98 L455.60 1166.19 L458.46 1164.25 L461.32 1162.17 L464.18 1159.96 L467.04 1157.64 L469.90 1155.22 L472.76 1152.73 L475.62 1150.16 L478.48 1147.55 L481.34 1144.90 L484.20 1142.22 L487.06 1139.55 L489.92 1136.88 L492.78 1134.23 L495.64 1131.62 L498.50 1129.07 L501.36 1126.59 L504.22 1124.19 L507.08 1121.89 L509.94 1119.70 L512.80 1117.64 L515.66 1115.73 L518.52 1113.98 L521.38 1112.40 L524.24 1111.01 L527.10 1109.83 L529.96 1108.86 L532.82 1108.13 L535.68 1107.65 L538.54 1107.44 L541.40 1107.50 L544.33 1107.87 L547.27 1108.54 L550.20 1109.50 L553.13 1110.75 L556.07 1112.28 L559.00 1114.08 L561.93 1116.14 L564.87 1118.46 L567.80 1121.02 L570.73 1123.82 L573.67 1126.86 L576.60 1130.11 L579.53 1133.58 L582.47 1137.26 L585.40 1141.13 L588.33 1145.20 L591.27 1149.45 L594.20 1153.87 L597.13 1158.46 L600.07 1163.21 L603.00 1168.11 L605.93 1173.16 L608.87 1178.34 L611.80 1183.64 L614.73 1189.07 L617.67 1194.60 L620.60 1200.25 L623.53 1205.98 L626.47 1211.80 L629.40 1217.71 L632.33 1223.68 L635.27 1229.72 L638.20 1235.81 L641.13 1241.96 L644.07 1248.14 L647.00 1254.35 L649.93 1260.59 L652.87 1266.84 L655.80 1273.10" stroke="#4C982C" stroke-width="1.6" fill="none" stroke-linejoin="round"/>
<circle cx="312.6" cy="1100.2" r="7.4" fill="url(#gor)"/>
<circle cx="427" cy="1164.3" r="7.4" fill="url(#gor)"/>
<circle cx="541.4" cy="1090.2" r="7.4" fill="url(#gor)"/>
<circle cx="655.8" cy="1299.8" r="7.4" fill="url(#gor)"/>
<path d="M198.2 964.7V991.1M193.2 964.7H203.2M193.2 991.1H203.2" stroke="#4C982C" stroke-width="1.7" fill="none"/>
<circle cx="198.2" cy="977.9" r="7.4" fill="url(#ggr)"/>
<path d="M312.6 1026.1V1042.1M307.6 1026.1H317.6M307.6 1042.1H317.6" stroke="#4C982C" stroke-width="1.7" fill="none"/>
<circle cx="312.6" cy="1034.1" r="7.4" fill="url(#ggr)"/>
<circle cx="427" cy="1174.5" r="7.4" fill="url(#ggr)"/>
<path d="M541.4 1097V1118M536.4 1097H546.4M536.4 1118H546.4" stroke="#4C982C" stroke-width="1.7" fill="none"/>
<circle cx="541.4" cy="1107.5" r="7.4" fill="url(#ggr)"/>
<circle cx="655.8" cy="1273.1" r="7.4" fill="url(#ggr)"/>
<rect x="187.4" y="896.5" width="52.7" height="25.4" fill="#FFE44C" stroke="#FFE817" stroke-width="1"/>
<rect x="187.4" y="926.5" width="52.7" height="25.4" fill="#B4CD86" stroke="#DAE77C" stroke-width="1"/>
<rect x="345.5" y="896" width="53.7" height="26.4" fill="#FEC412"/>
<rect x="345.5" y="926" width="53.7" height="26.4" fill="#94BC4B"/>
<text x="247.2" y="916.5" class="lg">PN of R0</text>
<text x="247.2" y="946.3" class="lg">PN of R1</text>
<text x="405" y="916.5" class="lg">PS of R0</text>
<text x="405" y="946.3" class="lg">PS of R1</text>
<text x="572.1" y="920.9" class="lg">PN/PS of R0</text>
<text x="572.1" y="949.8" class="lg">PN/PS of R1</text>
<path d="M511.4 912.8H529M547.6 912.8H565.2" stroke="#FF951D" stroke-width="1.6"/>
<circle cx="538.3" cy="912.8" r="7.4" fill="url(#gor)"/>
<path d="M511.4 942.8H529M547.6 942.8H565.2" stroke="#4C982C" stroke-width="1.6"/>
<circle cx="538.3" cy="942.8" r="7.4" fill="url(#ggr)"/>
<path d="M141 891.3H713V1330.9H141Z" stroke="#000" stroke-width="2" fill="none"/>
<path d="M132 1330.9H141" stroke="#000" stroke-width="2"/>
<text x="126.2" y="1339.6" class="tk" text-anchor="end">0</text>
<path d="M136 1292.74H141" stroke="#000" stroke-width="2"/>
<path d="M132 1254.58H141" stroke="#000" stroke-width="2"/>
<text x="126.2" y="1263.28" class="tk" text-anchor="end">20</text>
<path d="M136 1216.42H141" stroke="#000" stroke-width="2"/>
<path d="M132 1178.26H141" stroke="#000" stroke-width="2"/>
<text x="126.2" y="1186.96" class="tk" text-anchor="end">40</text>
<path d="M136 1140.1H141" stroke="#000" stroke-width="2"/>
<path d="M132 1101.94H141" stroke="#000" stroke-width="2"/>
<text x="126.2" y="1110.64" class="tk" text-anchor="end">60</text>
<path d="M136 1063.78H141" stroke="#000" stroke-width="2"/>
<path d="M132 1025.62H141" stroke="#000" stroke-width="2"/>
<text x="126.2" y="1034.32" class="tk" text-anchor="end">80</text>
<path d="M136 987.46H141" stroke="#000" stroke-width="2"/>
<path d="M132 949.3H141" stroke="#000" stroke-width="2"/>
<text x="126.2" y="958" class="tk" text-anchor="end">100</text>
<path d="M136 911.14H141" stroke="#000" stroke-width="2"/>
<path d="M708.5 1330.9H713" stroke="#000" stroke-width="2"/>
<path d="M704 1285.11H713" stroke="#000" stroke-width="2"/>
<text x="722" y="1293.81" class="tk">2</text>
<path d="M708.5 1239.32H713" stroke="#000" stroke-width="2"/>
<path d="M704 1193.53H713" stroke="#000" stroke-width="2"/>
<text x="722" y="1202.23" class="tk">3</text>
<path d="M708.5 1147.73H713" stroke="#000" stroke-width="2"/>
<path d="M704 1101.94H713" stroke="#000" stroke-width="2"/>
<text x="722" y="1110.64" class="tk">4</text>
<path d="M708.5 1056.15H713" stroke="#000" stroke-width="2"/>
<path d="M704 1010.36H713" stroke="#000" stroke-width="2"/>
<text x="722" y="1019.06" class="tk">5</text>
<path d="M708.5 964.57H713" stroke="#000" stroke-width="2"/>
<path d="M704 918.77H713" stroke="#000" stroke-width="2"/>
<text x="722" y="927.48" class="tk">6</text>
<text class="tt" text-anchor="middle" transform="translate(72.1 1110.9) rotate(-90)">TB-EPS (mg/(g VSS))</text>
<text class="tt" text-anchor="middle" transform="translate(766.1 1111.4) rotate(-90)">PN/PS</text>
<text x="13.8" y="918.8" class="pl">(c)</text>
<path d="M141 1330.9V1336" stroke="#000" stroke-width="2"/>
<path d="M255.4 1330.9V1336" stroke="#000" stroke-width="2"/>
<path d="M369.8 1330.9V1336" stroke="#000" stroke-width="2"/>
<path d="M484.2 1330.9V1336" stroke="#000" stroke-width="2"/>
<path d="M598.6 1330.9V1336" stroke="#000" stroke-width="2"/>
<path d="M713 1330.9V1336" stroke="#000" stroke-width="2"/>
<text x="198.2" y="1363.5" class="tk" text-anchor="middle">0</text>
<text x="312.6" y="1363.5" class="tk" text-anchor="middle">1</text>
<text x="427" y="1363.5" class="tk" text-anchor="middle">1.5</text>
<text x="541.4" y="1363.5" class="tk" text-anchor="middle">2</text>
<text x="655.8" y="1363.5" class="tk" text-anchor="middle">3.5</text>
<text x="426.6" y="1406.8" class="tt" text-anchor="middle">Salinity (%)</text>
</svg>
</body></html>
